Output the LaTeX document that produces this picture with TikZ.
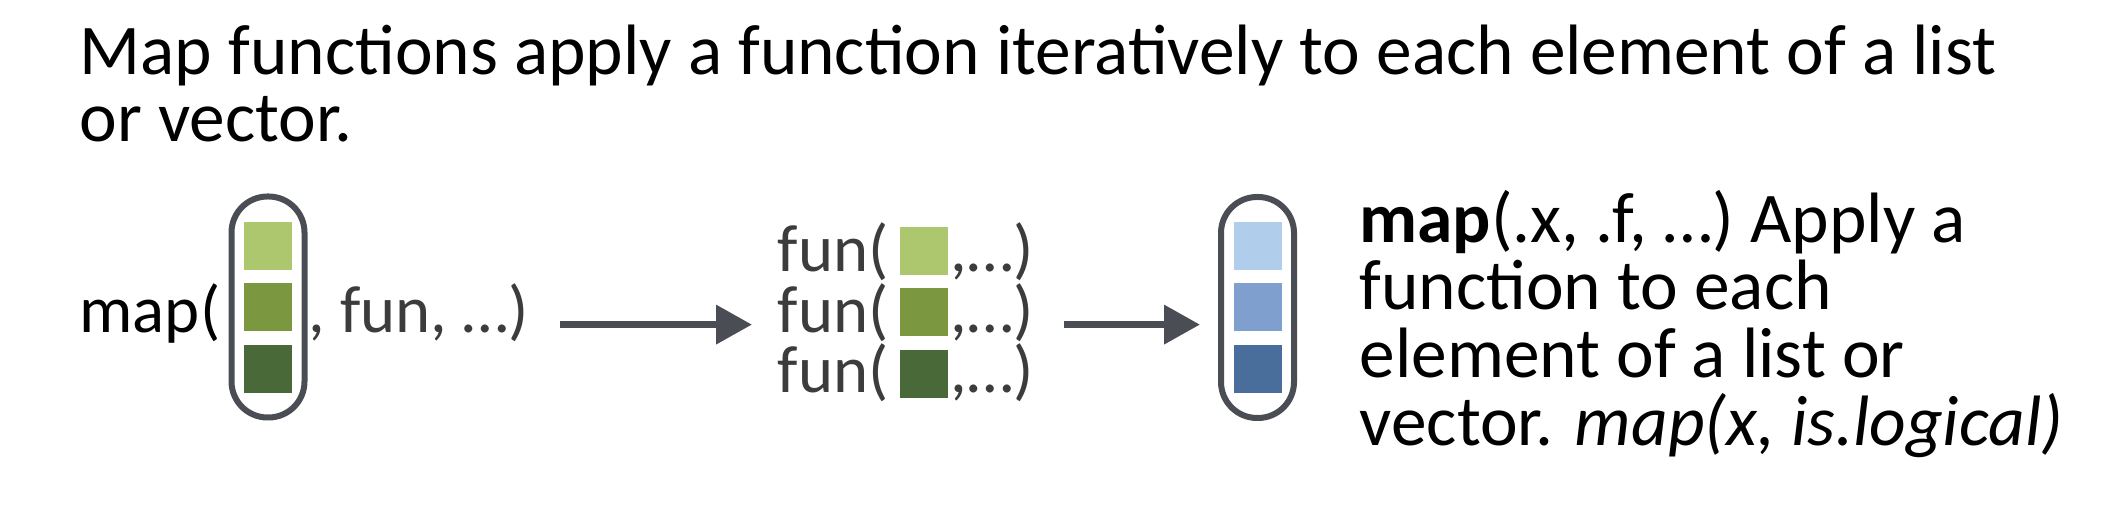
\documentclass[tikz,border=0pt]{standalone}
\usepackage{fontspec}
\setmainfont{Carlito}
\usetikzlibrary{arrows.meta}
\definecolor{capgray}{HTML}{4A4E54}
\definecolor{txtgray}{HTML}{3C3C3C}
\definecolor{grnA}{HTML}{ADC76E}
\definecolor{grnB}{HTML}{7B9840}
\definecolor{grnC}{HTML}{496A38}
\definecolor{bluA}{HTML}{B0CDEC}
\definecolor{bluB}{HTML}{7F9FCF}
\definecolor{bluC}{HTML}{4A6E9C}
\tikzset{
    capsule/.style={draw=capgray,line width=0.06cm,rounded corners=0.36cm,minimum width=0.73cm,minimum height=2.21cm,inner sep=0pt},
    cell/.style={minimum size=0.48cm,inner sep=0pt},
    txt/.style={inner sep=0pt,font=\fontsize{20.3}{19.3}\selectfont},
    arg/.style={inner sep=0pt,text=txtgray,font=\fontsize{19}{19}\selectfont},
    arr/.style={draw=capgray,line width=0.07cm,-{Triangle[length=0.36cm,width=0.38cm]}}
}
\begin{document}
\begin{tikzpicture}
        \useasboundingbox (0,0) rectangle (21.1,5.2);
        % title (base = last line)
        \node (title) [txt,anchor=base west,align=left] at (0.79,3.78) {Map functions apply a function iteratively to each element of a list\\or vector.};
        
        % input vector
        \node (cap1) [capsule] at (2.68,2.13) {};
        \node (g1) [cell,fill=grnA] at (2.68,2.74) {};\node (g2) [cell,fill=grnB] at (2.68,2.125) {};\node (g3) [cell,fill=grnC] at (2.68,1.51) {};
        \node (mapl) [arg,text=black,anchor=base east] at (2.21,1.87) {map(};
        \node (args) [arg,anchor=base west] at (3.08,1.87) {, fun, \ldots)};
        
        % calls
        \node (fun1) [arg,anchor=base west] at (7.77,2.48) {fun(};\node (fun2) [arg,anchor=base west] at (7.77,1.87) {fun(};\node (fun3) [arg,anchor=base west] at (7.77,1.27) {fun(};
        \node (m1) [cell,fill=grnA] at (9.24,2.69) {};\node (m2) [cell,fill=grnB] at (9.24,2.08) {};\node (m3) [cell,fill=grnC] at (9.24,1.46) {};
        \node (rest1) [arg,anchor=base west] at (9.50,2.48) {,\ldots)};\node (rest2) [arg,anchor=base west] at (9.50,1.87) {,\ldots)};\node (rest3) [arg,anchor=base west] at (9.50,1.27) {,\ldots)};
        
        % output vector
        \node (cap2) [capsule] at (12.575,2.125) {};
        \node (b1) [cell,fill=bluA] at (12.58,2.74) {};\node (b2) [cell,fill=bluB] at (12.58,2.125) {};\node (b3) [cell,fill=bluC] at (12.58,1.51) {};
        
        % lecter (base = last line)
        \node (desc) [txt,anchor=base west,align=left] at (13.59,0.745) {\textbf{map}(.x, .f, \ldots) Apply a\\function to each\\element of a list or\\vector. \textit{map(x, is.logical)}};
        
        % arrows
        \draw [arr,shorten <=0.30cm,shorten >=0.25cm] (args.mid east) -- (fun2.mid west);
        \draw [arr,shorten <=0.30cm,shorten >=0.18cm] (rest2.mid east) -- (rest2.mid east -| cap2.west);
    \end{tikzpicture}
\end{document}
